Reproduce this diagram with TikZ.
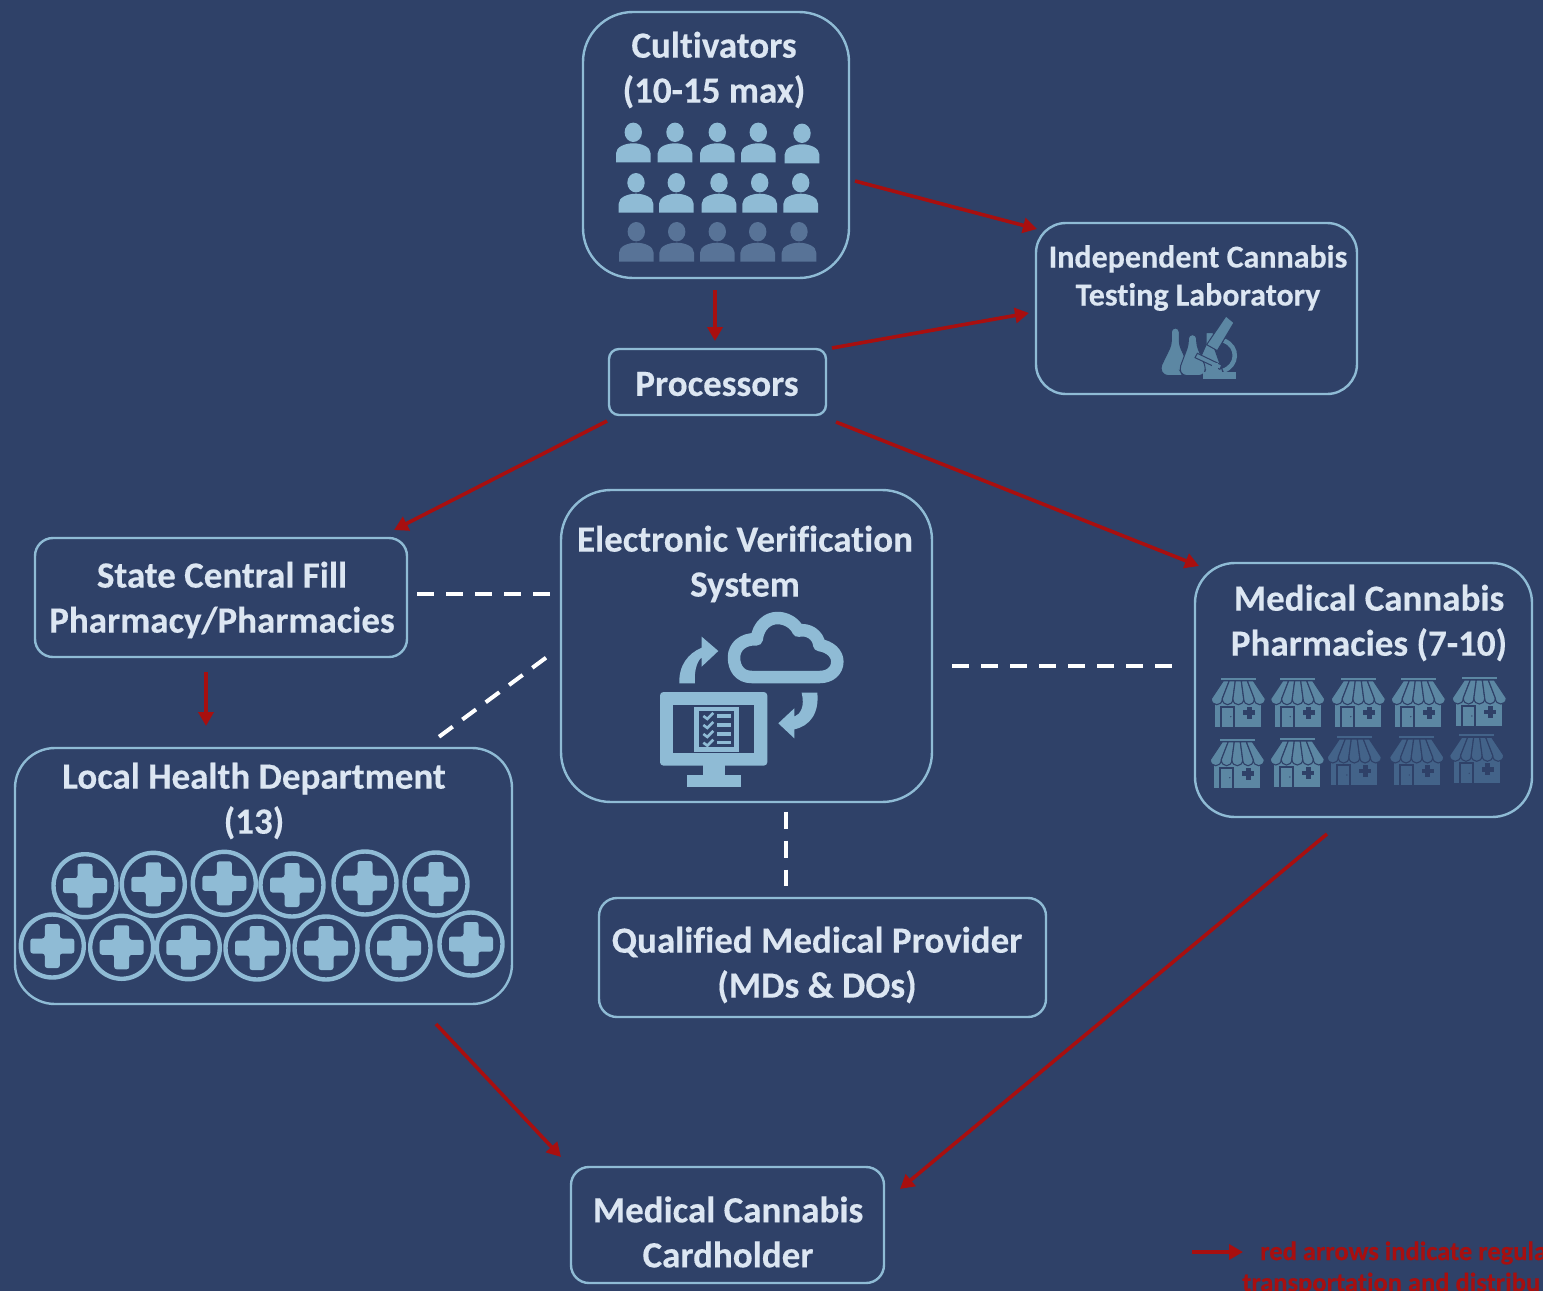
\documentclass[tikz,border=0pt]{standalone}
\usepackage{fontspec}
\setmainfont[Ligatures=NoCommon,BoldFeatures={FakeBold=0.3}]{Carlito}
\usetikzlibrary{arrows.meta}
\definecolor{bgc}{HTML}{2F4168}
\definecolor{lite}{HTML}{8FBBD5}
\definecolor{dimp}{HTML}{587397}
\definecolor{shopc}{HTML}{5C87A3}
\definecolor{shopd}{HTML}{436389}
\definecolor{txtc}{HTML}{DCE6F2}
\definecolor{redc}{HTML}{A80F0F}
\tikzset{
 box/.style={draw=lite,line width=2.4pt,inner sep=0pt,outer sep=0pt,fill=none},
 lbl/.style={text=txtc,font=\bfseries\fontsize{37}{45}\selectfont,align=center,inner sep=0pt},
 lbls/.style={text=txtc,font=\bfseries\fontsize{32}{38}\selectfont,align=center,inner sep=0pt},
 redarrow/.style={draw=redc,line width=3.6pt,-{Triangle[length=14pt,width=15pt]}},
 dashlink/.style={draw=white,line width=4pt,dash pattern=on 17pt off 12pt},
}
\newcommand{\personicon}[3]{\begin{scope}[shift={(#1,#2)}]
 \fill[#3] (0,-30) ellipse [x radius=8.7,y radius=9.7];
 \fill[#3] (-17.3,0) -- (-17.3,-9) .. controls (-17.3,-15.5) and (-8,-19) .. (0,-19) .. controls (8,-19) and (17.3,-15.5) .. (17.3,-9) -- (17.3,0) -- cycle;
\end{scope}}
\newcommand{\shopicon}[3]{\begin{scope}[shift={(#1,#2)}]
 \fill[#3] (-23,-26) rectangle (23,0);
 \fill[#3] (-17.5,-49) rectangle (17.5,-47);
 \foreach \ta/\tb/\ba/\bb in {-15/-9/-27/-16,-9/-3/-16/-5.4,-3/3/-5.4/5.4,3/9/5.4/16,9/15/16/27}{
  \filldraw[fill=#3,draw=bgc,line width=1.1pt] (\ta,-46) -- (\tb,-46) -- (\bb,-28) .. controls (\bb,-20) and (\ba,-20) .. (\ba,-28) -- cycle;
 }
 \fill[bgc] (-18,-21) rectangle (-3,0);
 \fill[#3] (-16,-19) rectangle (-5,0);
 \fill[bgc] (-7.5,-10) circle (0.7);
 \fill[bgc] (8.7,-20) rectangle (13.3,-8);
 \fill[bgc] (5,-16.3) rectangle (17,-11.7);
\end{scope}}
\newcommand{\plusring}[2]{\begin{scope}[shift={(#1,#2)}]
 \draw[lite,line width=4.4pt] (0,0) circle (31.5);
 \fill[lite,rounded corners=2.5pt] (-7.5,-22) -- (7.5,-22) -- (7.5,-7.5) -- (22,-7.5) -- (22,7.5) -- (7.5,7.5) -- (7.5,22) -- (-7.5,22) -- (-7.5,7.5) -- (-22,7.5) -- (-22,-7.5) -- (-7.5,-7.5) -- cycle;
\end{scope}}
\begin{document}
\begin{tikzpicture}[x=1pt,y=-1pt]
\useasboundingbox (0,0) rectangle (1543,1291);
\fill[bgc] (0,0) rectangle (1543,1291);
% boxes
\node[box,rounded corners=50pt,minimum width=266pt,minimum height=266pt] (cult) at (716,145) {};
\node[box,rounded corners=30pt,minimum width=321pt,minimum height=171pt] (lab) at (1196.5,308.5) {};
\node[box,rounded corners=10pt,minimum width=217pt,minimum height=66pt] (proc) at (717.5,382) {};
\node[box,rounded corners=18pt,minimum width=372pt,minimum height=119pt] (state) at (221,597.5) {};
\node[box,rounded corners=50pt,minimum width=371pt,minimum height=312pt] (evs) at (746.5,646) {};
\node[box,rounded corners=40pt,minimum width=337pt,minimum height=254pt] (pharm) at (1363.5,690) {};
\node[box,rounded corners=40pt,minimum width=497pt,minimum height=256pt] (lhd) at (263.5,876) {};
\node[box,rounded corners=18pt,minimum width=447pt,minimum height=119pt] (qmp) at (822.5,957.5) {};
\node[box,rounded corners=18pt,minimum width=313pt,minimum height=116pt] (card) at (727.5,1225) {};
% labels
\node[lbl] (cultT) at (714,70) {Cultivators\\(10-15 max)};
\node[lbls] (labT) at (1198,278) {Independent Cannabis\\Testing Laboratory};
\node[lbl] (procT) at (717,384) {Processors};
\node[lbl] (stateT) at (222,600) {State Central Fill\\Pharmacy/Pharmacies};
\node[lbl] (evsT) at (745,564) {Electronic Verification\\System};
\node[lbl] (pharmT) at (1369,623) {Medical Cannabis\\Pharmacies (7-10)};
\node[lbl] (lhdT) at (254,801) {Local Health Department\\(13)};
\node[lbl] (qmpT) at (817,965) {Qualified Medical Provider\\(MDs \& DOs)};
\node[lbl] (cardT) at (728,1232) {Medical Cannabis\\Cardholder};
% people
\foreach \px/\py in {633.3/162.3,675/162.3,717.3/162.3,758.3/162.3,802/163.3,636/212.7,676.3/212.7,719/212.7,759.7/212.7,800.7/212.7}{\personicon{\px}{\py}{lite}}
\foreach \px/\py in {636.3/261.7,676.7/261.7,717.3/261.7,757.7/261.7,799/261.7}{\personicon{\px}{\py}{dimp}}
% shops
\foreach \px/\py in {1238.3/726.7,1297.7/726.7,1358.3/726.7,1418.3/726.7,1479.3/726,1237.3/787.7,1297.3/787}{\shopicon{\px}{\py}{shopc}}
\foreach \px/\py in {1354.3/785,1416.7/785,1476.7/783.3}{\shopicon{\px}{\py}{shopd}}
% plus rings
\foreach \px/\py in {85/885.7,153.3/884.3,224.3/883.3,292/885,365/883,436/884,52.3/946,121.7/947.3,188.3/947.7,257/948,326/948,399/948,471/944}{\plusring{\px}{\py}}
% lab icon
\begin{scope}[shift={(1140,310)},x=0.3333pt,y=-0.3333pt]
 \filldraw[fill=shopc,draw=bgc,line width=1pt] (198,68) -- (220,68) -- (220,105) -- (250,190) -- (160,190) -- (198,105) -- cycle;
 \filldraw[fill=shopc,draw=bgc,line width=1pt,rounded corners=4pt] (94,54) -- (118,54) -- (118,105) -- (150,175) -- (135,197) -- (72,197) -- (60,175) -- (94,105) -- cycle;
 \filldraw[fill=shopc,draw=bgc,line width=1pt,rounded corners=4pt] (145,74) -- (170,74) -- (170,105) -- (198,175) -- (190,197) -- (128,197) -- (118,178) -- (145,105) -- cycle;
 \draw[bgc,line width=3.5pt] (252,92) .. controls (300,110) and (295,170) .. (255,178);
 \draw[shopc,line width=4.5pt] (252,92) .. controls (298,110) and (293,168) .. (250,182);
 \filldraw[fill=shopc,draw=bgc,line width=1pt] (258,18) -- (282,38) -- (232,122) -- (200,104) -- cycle;
 \filldraw[fill=shopc,draw=bgc,line width=1pt] (172,130) -- (245,165) -- (240,178) -- (165,143) -- cycle;
 \fill[shopc] (215,160) rectangle (235,190);
 \fill[shopc] (188,186) rectangle (288,207);
\end{scope}
% EVS icon
\begin{scope}[shift={(640,600)},x=0.3333pt,y=-0.3333pt]
 \draw[lite,line width=12.5pt,line join=round] (335,231) .. controls (300,231) and (282,205) .. (282,172) .. controls (282,140) and (310,115) .. (350,118) .. controls (355,75) and (385,54) .. (412,54) .. controls (440,54) and (465,70) .. (475,92) .. controls (505,85) and (535,105) .. (538,135) .. controls (570,140) and (592,160) .. (592,185) .. controls (592,212) and (570,231) .. (540,231) -- cycle;
 \fill[lite] (118,250) .. controls (116,195) and (145,160) .. (185,143) -- (185,110) -- (235,153) -- (185,200) -- (185,172) .. controls (170,185) and (162,215) .. (165,250) -- cycle;
 \fill[lite] (532,278) .. controls (538,340) and (510,378) .. (463,388) -- (463,415) -- (415,370) -- (463,325) -- (463,350) .. controls (482,342) and (495,320) .. (485,278) -- cycle;
 \fill[lite,rounded corners=3.5pt] (60,276) rectangle (382,497);
 \fill[bgc] (100,314) rectangle (342,460);
 \fill[lite] (188,490) rectangle (254,530);
 \fill[lite] (140,525) rectangle (302,562);
 \fill[lite] (163,320) rectangle (297,455);
 \fill[bgc] (178,333) rectangle (282,442);
 \foreach \cy in {348,375,402,428}{
  \fill[lite] (232,\cy-5) rectangle (272,\cy+5);
  \draw[lite,line width=2.6pt] (190,\cy) -- (202,\cy+9) -- (220,\cy-9);
 }
\end{scope}
% red connectors
\draw[redarrow] ([shift={(6,36)}]cult.east) -- ([shift={(1,-79.5)}]lab.west);
\draw[redarrow] ([shift={(-1,12)}]cult.south) -- ([shift={(-2.5,-8)}]proc.north);
\draw[redarrow] ([shift={(6,-34)}]proc.east) -- ([shift={(-7,4.5)}]lab.west);
\draw[redarrow] ([shift={(-2,39)}]proc.west) -- ([shift={(173,-8)}]state.north);
\draw[redarrow] ([shift={(10,40)}]proc.east) -- ([shift={(-164.5,3)}]pharm.north);
\draw[redarrow] ([shift={(-15,15)}]state.south) -- ([shift={(-57.5,-22)}]lhd.north);
\draw[redarrow] ([shift={(172.5,20)}]lhd.south) -- ([shift={(-10,-68)}]card.west);
\draw[redarrow] ([shift={(-36.5,17)}]pharm.south) -- ([shift={(16,-36)}]card.east);
% dashed connectors
\draw[dashlink] ([shift={(10,-3.2)}]state.east) -- ([shift={(-10.5,-51.7)}]evs.west);
\draw[dashlink] ([shift={(20,20)}]evs.east) -- ([shift={(-22,-24)}]pharm.west);
\draw[dashlink] ([shift={(-15,11.7)}]evs.west) -- ([shift={(174.8,-10.7)}]lhd.north);
\draw[dashlink] ([shift={(39.8,9.7)}]evs.south) -- ([shift={(-36.2,-12)}]qmp.north);
% legend
\begin{scope}
 \clip (0,0) rectangle (1543,1291);
 \coordinate (legA) at (1192,1252);
 \coordinate (legB) at (1243,1252);
 \draw[redarrow] (legA) -- (legB);
 \node[anchor=west,text=redc,font=\bfseries\fontsize{26.5}{30}\selectfont,inner sep=0pt] (legT1) at (1260,1253) {red arrows indicate regula};
 \node[anchor=west,text=redc,font=\bfseries\fontsize{26.5}{30}\selectfont,inner sep=0pt] (legT2) at (1242,1284) {transportation and distribu};
\end{scope}
\end{tikzpicture}
\end{document}
